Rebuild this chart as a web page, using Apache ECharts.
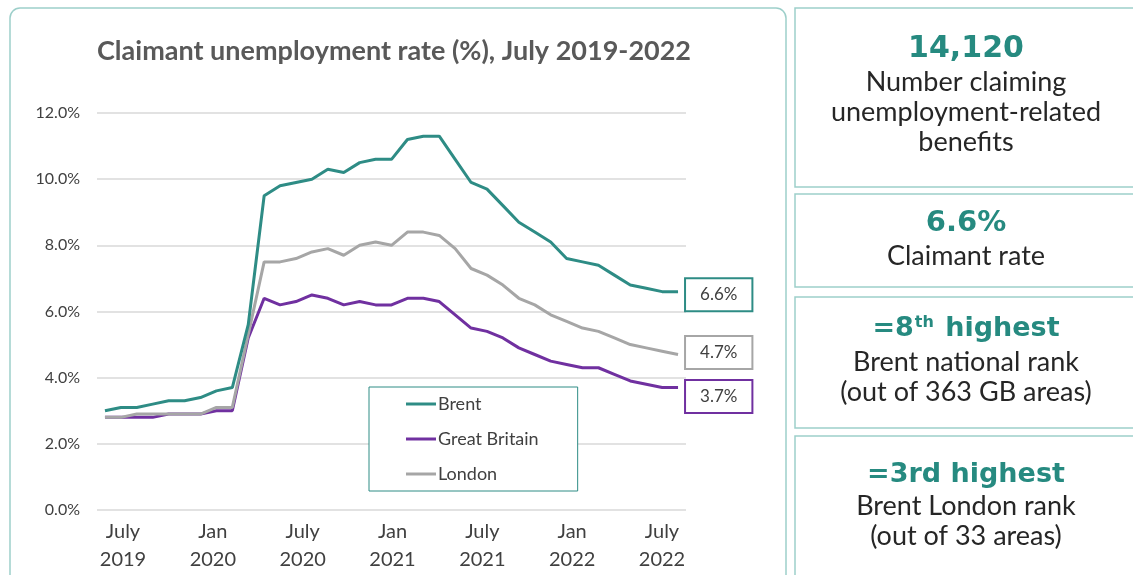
<!DOCTYPE html>
<html>
<head>
<meta charset="utf-8">
<script src="https://cdn.jsdelivr.net/npm/echarts@6/dist/echarts.min.js"></script>
<style>
  html, body { margin: 0; padding: 0; background: #fff; }
  #main { width: 1133px; height: 575px; }
</style>
</head>
<body>
<div id="main"></div>
<script>
// monthly, July 2019 - July 2022
const months = [
  'Jul 2019', 'Aug 2019', 'Sep 2019', 'Oct 2019', 'Nov 2019', 'Dec 2019',
  'Jan 2020', 'Feb 2020', 'Mar 2020', 'Apr 2020', 'May 2020', 'Jun 2020',
  'Jul 2020', 'Aug 2020', 'Sep 2020', 'Oct 2020', 'Nov 2020', 'Dec 2020',
  'Jan 2021', 'Feb 2021', 'Mar 2021', 'Apr 2021', 'May 2021', 'Jun 2021',
  'Jul 2021', 'Aug 2021', 'Sep 2021', 'Oct 2021', 'Nov 2021', 'Dec 2021',
  'Jan 2022', 'Feb 2022', 'Mar 2022', 'Apr 2022', 'May 2022', 'Jun 2022',
  'Jul 2022'
];
const brent = [3.0, 3.1, 3.1, 3.2, 3.3, 3.3, 3.4, 3.6, 3.7, 5.6, 9.5, 9.8, 9.9, 10.0, 10.3, 10.2, 10.5, 10.6, 10.6,
  11.2, 11.3, 11.3, 10.6, 9.9, 9.7, 9.2, 8.7, 8.4, 8.1, 7.6, 7.5, 7.4, 7.1, 6.8, 6.7, 6.6, 6.6];
const greatBritain = [2.8, 2.8, 2.8, 2.8, 2.9, 2.9, 2.9, 3.0, 3.0, 5.2, 6.4, 6.2, 6.3, 6.5, 6.4, 6.2, 6.3, 6.2, 6.2,
  6.4, 6.4, 6.3, 5.9, 5.5, 5.4, 5.2, 4.9, 4.7, 4.5, 4.4, 4.3, 4.3, 4.1, 3.9, 3.8, 3.7, 3.7];
const london = [2.8, 2.8, 2.9, 2.9, 2.9, 2.9, 2.9, 3.1, 3.1, 5.3, 7.5, 7.5, 7.6, 7.8, 7.9, 7.7, 8.0, 8.1, 8.0,
  8.4, 8.4, 8.3, 7.9, 7.3, 7.1, 6.8, 6.4, 6.2, 5.9, 5.7, 5.5, 5.4, 5.2, 5.0, 4.9, 4.8, 4.7];
const tickLabels = ['July\n2019', 'Jan\n2020', 'July\n2020', 'Jan\n2021', 'July\n2021', 'Jan\n2022', 'July\n2022'];

const TEAL = '#2e8c85';
const PURPLE = '#7030a0';
const GREY = '#a6a6a6';
const BOX = '#9dcfca';
const TXT = '#404040';
const BIG = '#268a80';
const FONT = 'Lato, "Open Sans", sans-serif';
const BOLD = '"DejaVu Sans", sans-serif';
const LINE_ICON = 'path://M0,0 L30,0 L30,3 L0,3 Z';

const chart = echarts.init(document.getElementById('main'));

function endLabel(color, offset) {
  return {
    show: true,
    formatter: p => p.value.toFixed(1) + '%',
    color: TXT,
    fontFamily: FONT,
    fontSize: 17,
    backgroundColor: '#fff',
    borderColor: color,
    borderWidth: 2,
    padding: [7, 14, 7, 14],
    distance: 7,
    offset: offset
  };
}

function boxText(x, y, text, size, bold, color) {
  return {
    type: 'text', x: x, y: y, z: 10,
    style: {
      text: text, fill: color || '#262626',
      font: (bold ? 'bold ' : '') + size + 'px ' + (bold ? BOLD : FONT),
      textAlign: 'center', textVerticalAlign: 'middle'
    }
  };
}

const option = {
  backgroundColor: '#fff',
  animation: false,
  title: {
    text: 'Claimant unemployment rate (%), July 2019-2022',
    left: 92, top: 33,
    textStyle: { color: '#595959', fontFamily: FONT, fontWeight: 'bold', fontSize: 27 }
  },
  legend: {
    orient: 'vertical',
    left: 369, top: 387,
    data: [
      { name: 'Brent', icon: LINE_ICON },
      { name: 'Great Britain', icon: LINE_ICON },
      { name: 'London', icon: LINE_ICON }
    ],
    borderColor: TEAL, borderWidth: 1,
    padding: [8, 39, 8, 37],
    itemWidth: 30, itemHeight: 14, itemGap: 17,
    textStyle: { color: TXT, fontFamily: FONT, fontSize: 18, padding: [0, 0, 0, -3] },
    backgroundColor: '#fff'
  },
  grid: [
    { left: 97, right: 447, top: 113, bottom: 65 },
    { left: 123, right: 471, top: 113, bottom: 65 }
  ],
  xAxis: [
    {
      type: 'category', gridIndex: 0, data: months, boundaryGap: true,
      axisLine: { show: false }, axisTick: { show: false }, axisLabel: { show: false }
    },
    {
      type: 'category', gridIndex: 1, data: tickLabels, boundaryGap: false,
      axisLine: { show: false }, axisTick: { show: false },
      axisLabel: { interval: 0, color: TXT, fontFamily: FONT, fontSize: 20, lineHeight: 28, margin: 8 }
    }
  ],
  yAxis: [
    {
      type: 'value', gridIndex: 0, min: 0, max: 12, interval: 2,
      axisLine: { show: false }, axisTick: { show: false },
      splitLine: { lineStyle: { color: '#d9d9d9', width: 1.5 } },
      axisLabel: { formatter: v => v.toFixed(1) + '%', color: TXT, fontFamily: FONT, fontSize: 16, margin: 17 }
    },
    { type: 'value', gridIndex: 1, show: false, min: 0, max: 12 }
  ],
  series: [
    {
      name: 'Great Britain', type: 'line', data: greatBritain, symbol: 'none', z: 2,
      lineStyle: { color: PURPLE, width: 3 }, itemStyle: { color: PURPLE },
      endLabel: endLabel(PURPLE, [1, 9])
    },
    {
      name: 'London', type: 'line', data: london, symbol: 'none', z: 3,
      lineStyle: { color: GREY, width: 3 }, itemStyle: { color: GREY },
      endLabel: endLabel(GREY, [1, -2])
    },
    {
      name: 'Brent', type: 'line', data: brent, symbol: 'none', z: 4,
      lineStyle: { color: TEAL, width: 3 }, itemStyle: { color: TEAL },
      endLabel: endLabel(TEAL, [1, 3])
    }
  ],
  graphic: [
    { type: 'rect', shape: { x: 10, y: 8, width: 776, height: 580, r: 10 },
      style: { fill: 'none', stroke: BOX, lineWidth: 1.5 }, z: -1 },
    { type: 'rect', shape: { x: 795, y: 8, width: 360, height: 179 }, style: { fill: 'none', stroke: BOX, lineWidth: 1.5 } },
    { type: 'rect', shape: { x: 795, y: 194, width: 360, height: 93 }, style: { fill: 'none', stroke: BOX, lineWidth: 1.5 } },
    { type: 'rect', shape: { x: 795, y: 297, width: 360, height: 131 }, style: { fill: 'none', stroke: BOX, lineWidth: 1.5 } },
    { type: 'rect', shape: { x: 795, y: 436, width: 360, height: 160 }, style: { fill: 'none', stroke: BOX, lineWidth: 1.5 } },
    boxText(966, 49, '14,120', 30, true, BIG),
    boxText(966, 82, 'Number claiming', 27),
    boxText(966, 112, 'unemployment-related', 27),
    boxText(966, 142, 'benefits', 27),
    boxText(966, 223, '6.6%', 29, true, BIG),
    boxText(966, 256, 'Claimant rate', 27),
    {
      type: 'text', x: 966, y: 329, z: 10,
      style: {
        text: '{b|=8}{s|th}{b| highest}',
        textAlign: 'center', textVerticalAlign: 'middle',
        rich: {
          b: { fontSize: 27, fontWeight: 'bold', fontFamily: BOLD, fill: BIG, lineHeight: 30 },
          s: { fontSize: 16, fontWeight: 'bold', fontFamily: BOLD, fill: BIG, lineHeight: 30, padding: [0, 2, 12, 1] }
        }
      }
    },
    boxText(966, 362, 'Brent national rank', 27),
    boxText(966, 392, '(out of 363 GB areas)', 27),
    boxText(966, 475, '=3rd highest', 27, true, BIG),
    boxText(966, 506, 'Brent London rank', 27),
    boxText(966, 536, '(out of 33 areas)', 27)
  ]
};

chart.setOption(option);
</script>
</body>
</html>
